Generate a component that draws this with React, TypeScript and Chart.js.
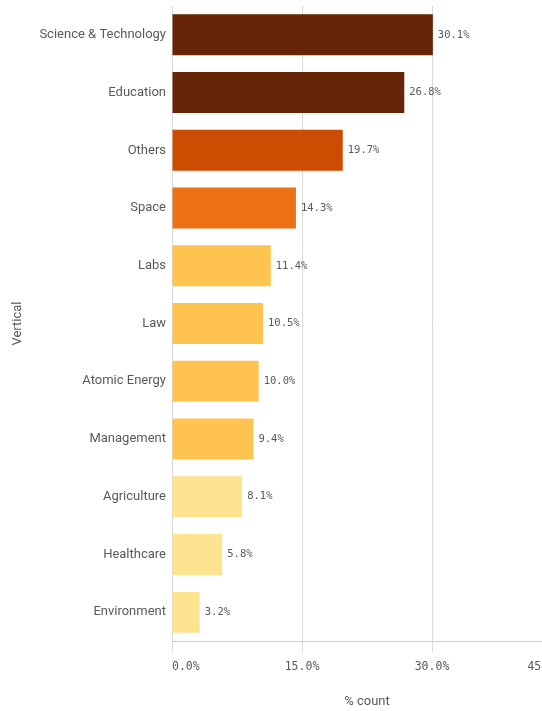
import React, { useEffect, useRef } from "react";
import { Chart, registerables } from "chart.js";

Chart.register(...registerables);

const categories = [
  "Science & Technology",
  "Education",
  "Others",
  "Space",
  "Labs",
  "Law",
  "Atomic Energy",
  "Management",
  "Agriculture",
  "Healthcare",
  "Environment",
];
const values = [30.1, 26.8, 19.7, 14.3, 11.4, 10.5, 10.0, 9.4, 8.1, 5.8, 3.2];
const barColors = [
  "#662506",
  "#662506",
  "#cc4c02",
  "#ec7014",
  "#fec44f",
  "#fec44f",
  "#fec44f",
  "#fec44f",
  "#fee391",
  "#fee391",
  "#fee391",
];
const xTicks = [0, 15, 30, 45];
const xTitle = "% count";
const yTitle = "Vertical";

const GRAY = "#595959";
const MONO = "'DejaVu Sans Mono', monospace";
const SANS = "Roboto, 'Noto Sans', sans-serif";

const valueLabels = {
  id: "valueLabels",
  afterDatasetsDraw(chart: any) {
    const ctx = chart.ctx;
    const meta = chart.getDatasetMeta(0);
    ctx.save();
    ctx.font = `10.5px ${MONO}`;
    ctx.fillStyle = GRAY;
    ctx.textAlign = "left";
    ctx.textBaseline = "middle";
    meta.data.forEach((bar: any, i: number) => {
      ctx.fillText(values[i].toFixed(1) + "%", bar.x + 5, bar.y);
    });
    ctx.restore();
  },
};

export default function App() {
  const ref = useRef<HTMLCanvasElement | null>(null);
  useEffect(() => {
    if (!ref.current) return;
    const chart = new Chart(ref.current, {
      type: "bar",
      data: {
        labels: categories,
        datasets: [
          {
            data: values,
            backgroundColor: barColors,
            borderWidth: 0,
            categoryPercentage: 1,
            barPercentage: 0.71,
          },
        ],
      },
      options: {
        indexAxis: "y",
        responsive: false,
        maintainAspectRatio: false,
        animation: false,
        layout: { padding: { top: 6, right: 38, left: 0, bottom: 0 } },
        plugins: {
          legend: { display: false },
          tooltip: { enabled: false },
        },
        scales: {
          x: {
            type: "linear",
            min: 0,
            max: 45,
            afterBuildTicks: (scale: any) => {
              scale.ticks = xTicks.map((v) => ({ value: v }));
            },
            afterFit: (scale: any) => {
              scale.height = 70;
            },
            ticks: {
              callback: (v: any) => Number(v).toFixed(1) + "%",
              font: { family: MONO, size: 11.5 },
              color: GRAY,
              align: "inner",
              maxRotation: 0,
              padding: 8,
            },
            grid: {
              color: "#d9d9d9",
              lineWidth: 1,
              drawTicks: true,
              tickLength: 11,
            },
            border: { display: true, color: "#cccccc" },
            title: {
              display: true,
              text: xTitle,
              font: { family: SANS, size: 13 },
              color: GRAY,
              padding: { top: 0, bottom: 1 },
            },
          },
          y: {
            afterFit: (scale: any) => {
              scale.width = 172;
              scale.paddingTop = 0;
              scale.paddingBottom = 0;
            },
            ticks: {
              font: { family: SANS, size: 13 },
              color: GRAY,
              padding: 6,
            },
            grid: { display: false, drawTicks: false },
            border: { display: false },
            title: {
              display: true,
              text: yTitle,
              font: { family: SANS, size: 13 },
              color: GRAY,
              padding: { top: 10, bottom: 0 },
            },
          },
        },
      },
      plugins: [valueLabels],
    } as any);
    return () => chart.destroy();
  }, []);
  return (
    <div
      style={{
        position: "absolute",
        left: 0,
        top: 0,
        width: 542,
        height: 711,
        overflow: "hidden",
        background: "#ffffff",
      }}
    >
      <canvas ref={ref} width={600} height={711} style={{ display: "block" }} />
    </div>
  );
}
